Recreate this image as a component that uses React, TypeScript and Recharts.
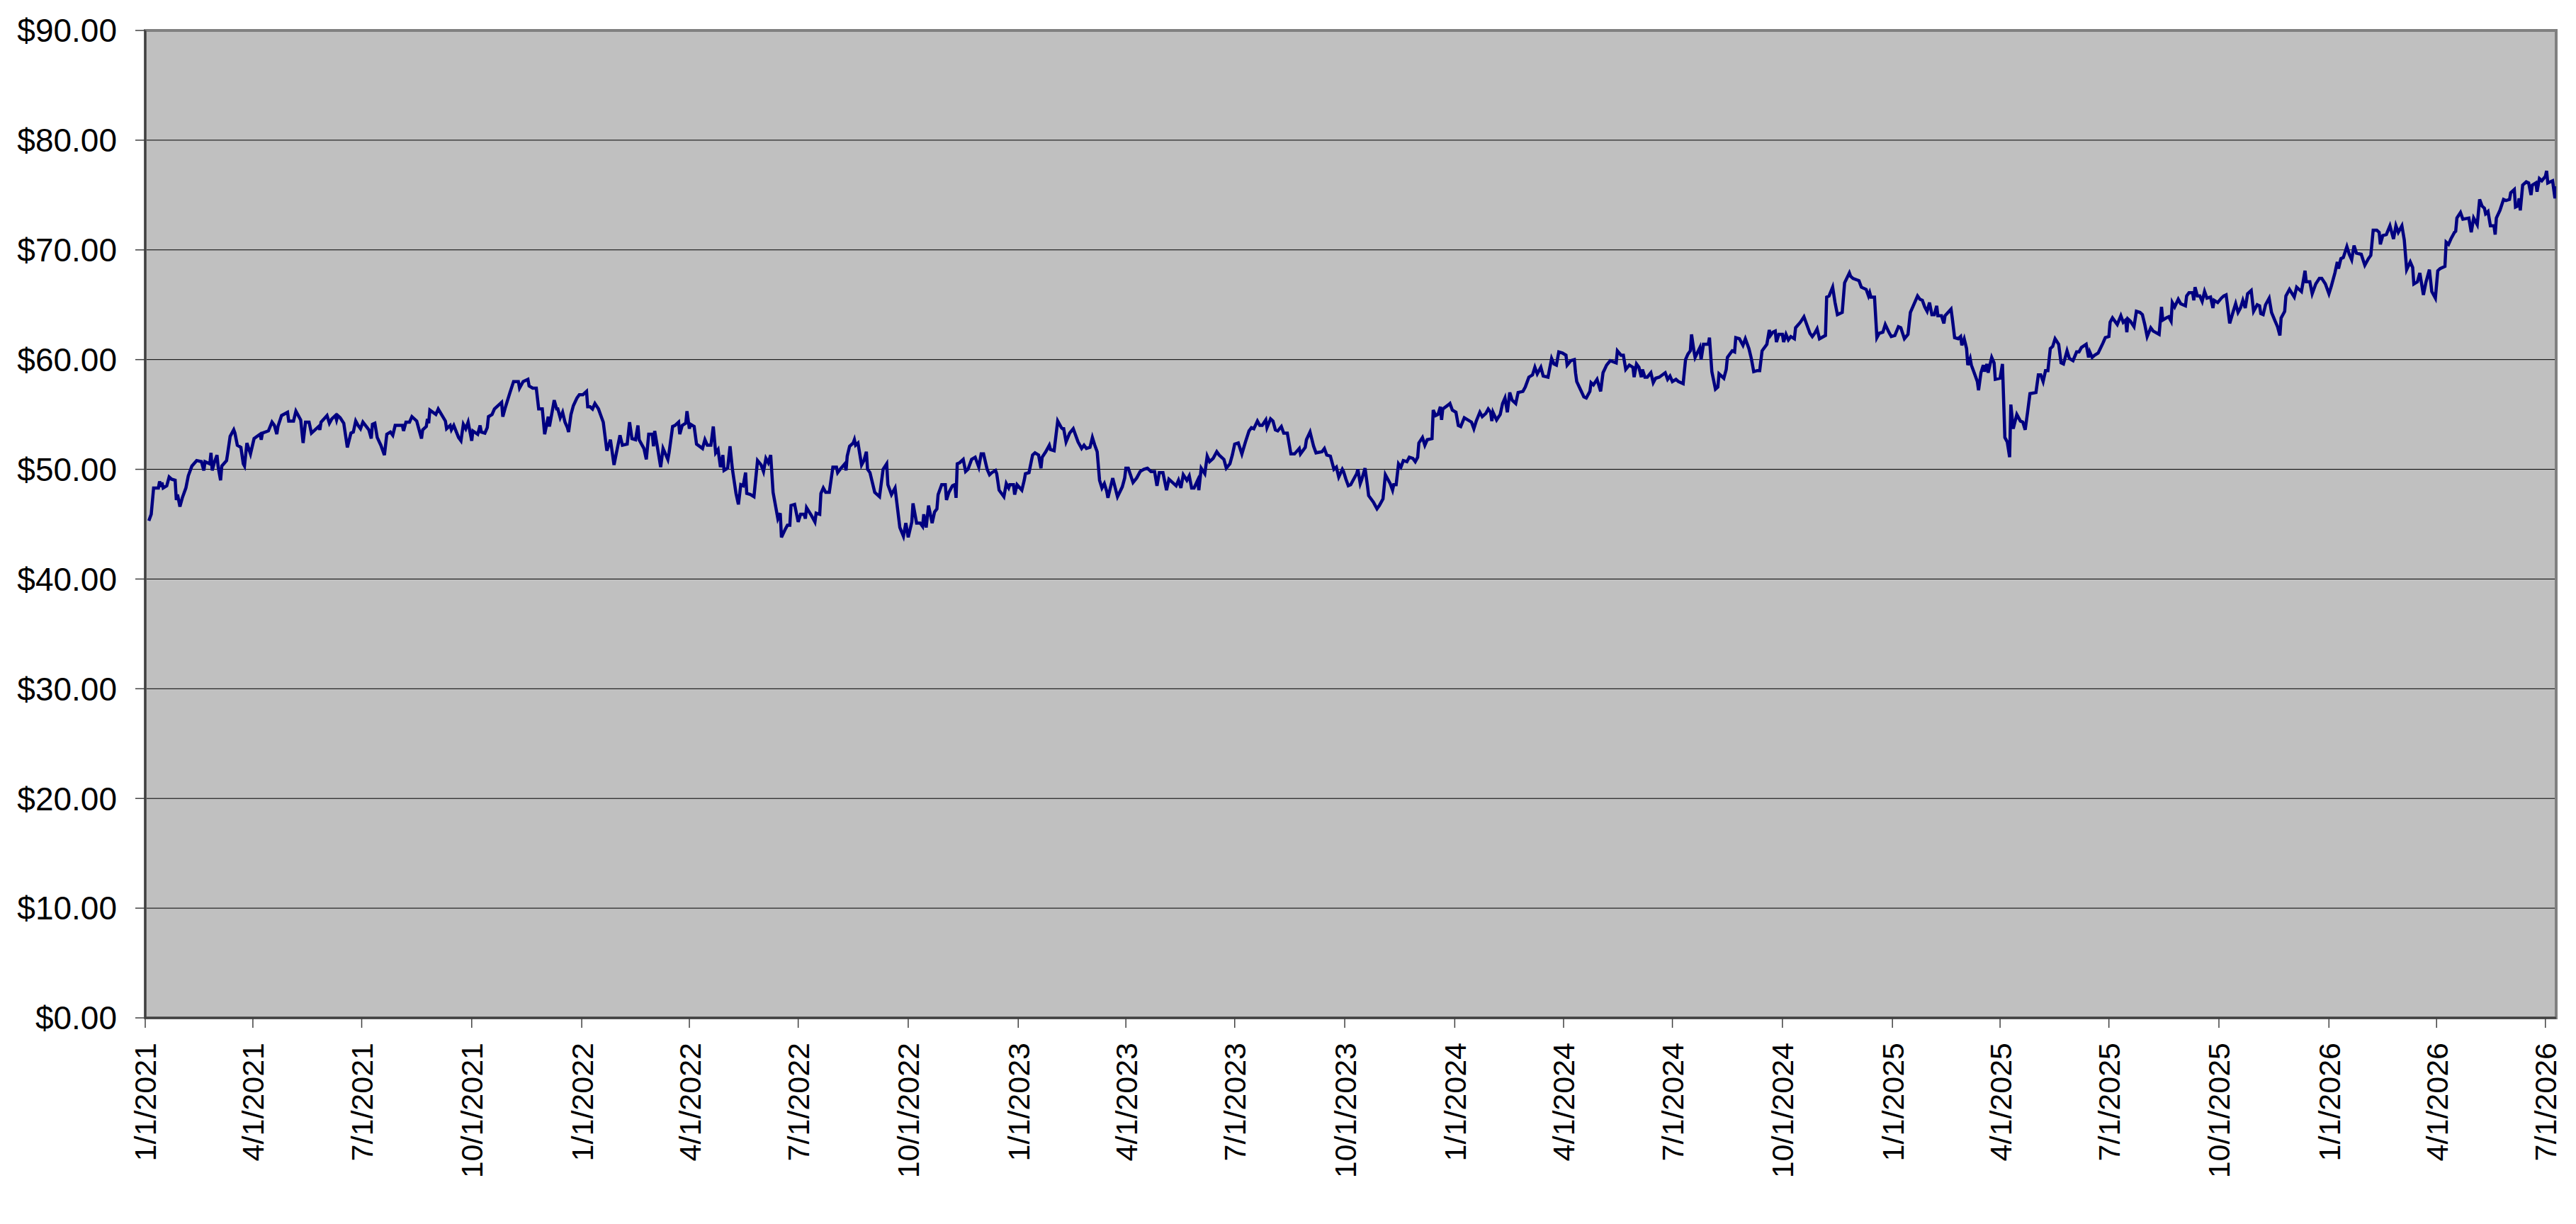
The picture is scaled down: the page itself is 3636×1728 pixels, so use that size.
import {
  CartesianGrid,
  Line,
  LineChart,
  ReferenceArea,
  XAxis,
  YAxis,
} from "recharts";

// x values are days counted from 1/1/2021, y values are closing prices in dollars
const days2021 = [
  3, 5, 7, 11, 12, 13, 14, 15, 18, 20, 22, 25, 26, 27, 29, 31, 34, 36, 39, 43, 47, 49, 50, 54, 55, 56, 58, 60, 61, 63,
  64, 68, 69, 71, 74, 75, 77, 80, 82, 83, 85, 88, 91, 96, 97, 98, 103, 106, 108, 110, 111, 114, 119, 120, 124, 126,
  130, 132, 134, 137, 139, 145, 146, 147, 152, 154, 156, 159, 160, 161, 163, 166, 169, 172, 174, 176, 178, 180, 182,
  187, 189, 190, 192, 194, 197, 200, 202, 205, 207, 209, 215, 216, 218, 221, 223, 227, 229, 231, 232, 235, 236, 237,
  238, 243, 245, 251, 252, 255, 256, 258, 262, 264, 266, 268, 270, 273, 274, 278, 280, 281, 284, 286, 287, 290, 292,
  298, 299, 301, 305, 308, 312, 313, 316, 320, 321, 324, 327, 329, 332, 334, 337, 338, 340, 342, 344, 345, 347, 349,
  351, 353, 354, 356, 358, 361, 363,
];
const close2021 = [
  45.3, 45.9, 48.3, 48.3, 48.9, 48.4, 48.8, 48.3, 48.5, 49.3, 49.1, 49.0, 47.2, 47.7, 46.6, 47.4, 48.3, 49.4, 50.3,
  50.8, 50.7, 49.9, 50.7, 50.5, 51.5, 49.9, 50.7, 51.3, 50.2, 49.0, 50.3, 50.8, 51.5, 53.0, 53.6, 53.3, 52.2, 52.0,
  50.5, 50.3, 52.4, 51.4, 52.8, 53.2, 52.7, 53.3, 53.5, 54.3, 54.0, 53.2, 53.9, 54.9, 55.2, 54.4, 54.4, 55.3, 54.5,
  52.4, 54.3, 54.3, 53.3, 53.9, 53.6, 54.3, 54.9, 54.2, 54.6, 54.9, 54.5, 54.9, 54.7, 54.2, 52.0, 53.3, 53.4, 54.4,
  54.0, 53.7, 54.3, 53.6, 52.8, 54.1, 54.2, 52.9, 52.2, 51.3, 53.2, 53.4, 53.1, 54.0, 54.0, 53.5, 54.3, 54.3, 54.8,
  54.4, 53.6, 52.8, 53.6, 53.9, 54.6, 54.2, 55.4, 55.0, 55.5, 54.4, 53.7, 54.0, 53.6, 54.0, 52.9, 52.6, 54.1, 53.7,
  54.3, 52.6, 53.5, 53.2, 54.0, 53.4, 53.3, 53.8, 54.8, 55.0, 55.5, 56.1, 54.8, 55.6, 57.0, 58.0, 58.0, 57.4, 58.0,
  58.2, 57.6, 57.4, 57.4, 55.5, 55.5, 53.2, 54.8, 53.9, 55.1, 56.3, 55.5, 55.5, 54.7, 55.2, 54.3, 53.8, 53.4, 55.0,
  55.8, 56.5, 56.8,
];

const days2022 = [
  366, 369, 370, 372, 374, 376, 379, 381, 383, 386, 389, 392, 394, 397, 399, 403, 405, 407, 410, 412, 413, 417, 419,
  421, 424, 425, 426, 428, 431, 433, 437, 438, 441, 443, 446, 447, 449, 452, 453, 455, 456, 459, 461, 466, 468, 470,
  473, 475, 477, 479, 481, 483, 484, 487, 489, 491, 494, 496, 498, 500, 502, 503, 506, 509, 512, 515, 517, 519, 521,
  523, 525, 529, 531, 532, 535, 537, 539, 540, 543, 546, 548, 551, 552, 553, 557, 560, 561, 564, 565, 567, 569, 572,
  575, 578, 579, 581, 585, 586, 587, 589, 592, 593, 594, 596, 599, 601, 603, 604, 606, 610, 614, 617, 620, 621, 624,
  627, 631, 634, 636, 638, 641, 642, 645, 648, 650, 651, 653, 655, 658, 660, 662, 663, 666, 669, 670, 672, 675, 677,
  678, 679, 681, 684, 686, 688, 691, 694, 697, 699, 701, 704, 706, 708, 711, 712, 714, 718, 720, 722, 723, 726, 727,
  729,
];
const close2022 = [
  56.8, 57.1, 55.7, 55.7, 55.5, 56.0, 55.5, 54.9, 54.3, 51.7, 52.7, 50.4, 51.5, 53.1, 52.2, 52.3, 54.3, 52.8, 52.7,
  54.0, 52.7, 51.9, 50.9, 53.2, 53.2, 52.1, 53.5, 52.2, 50.2, 51.9, 50.9, 51.5, 53.9, 54.0, 54.3, 53.2, 54.0, 54.2,
  55.3, 53.7, 54.1, 53.9, 52.3, 51.9, 52.7, 52.2, 52.2, 53.9, 51.5, 51.8, 50.2, 51.3, 49.9, 50.1, 52.1, 50.0, 47.8,
  46.8, 48.6, 48.5, 49.7, 47.8, 47.7, 47.5, 50.8, 50.4, 49.8, 51.0, 50.6, 51.3, 47.9, 45.5, 46.0, 43.8, 44.5, 44.9,
  44.9, 46.7, 46.8, 45.2, 45.9, 45.9, 45.5, 46.5, 45.8, 45.2, 46.0, 45.9, 47.8, 48.3, 47.9, 47.9, 50.2, 50.2, 49.7,
  50.0, 50.5, 49.9, 51.2, 52.1, 52.4, 52.7, 52.2, 52.4, 50.4, 50.8, 51.6, 50.0, 49.7, 47.9, 47.5, 50.0, 50.5, 48.6,
  47.7, 48.3, 44.7, 43.9, 45.1, 43.8, 45.2, 46.9, 45.1, 45.1, 44.8, 45.9, 44.7, 46.7, 45.1, 46.1, 46.4, 47.7, 48.6,
  48.6, 47.2, 47.9, 48.5, 48.6, 47.4, 50.5, 50.6, 50.9, 49.8, 50.0, 50.9, 51.1, 50.2, 51.4, 51.4, 50.0, 49.5, 49.7,
  49.9, 49.6, 48.1, 47.5, 48.7, 48.3, 48.6, 48.6, 47.7, 48.6,
];

const days2023 = [
  733, 735, 736, 739, 742, 744, 747, 749, 750, 753, 756, 757, 760, 763, 766, 767, 768, 770, 773, 776, 780, 783, 785,
  787, 790, 792, 794, 796, 798, 800, 802, 804, 805, 809, 813, 817, 819, 820, 822, 826, 829, 832, 835, 838, 841, 844,
  846, 848, 851, 854, 856, 859, 862, 864, 866, 868, 871, 873, 875, 877, 880, 881, 883, 886, 888, 890, 893, 896, 898,
  902, 904, 907, 909, 911, 914, 917, 920, 923, 925, 927, 930, 932, 934, 937, 938, 941, 943, 945, 947, 950, 952, 955,
  958, 961, 965, 966, 970, 971, 974, 977, 979, 984, 986, 988, 991, 994, 996, 998, 1001, 1002, 1004, 1006, 1008, 1010,
  1013, 1014, 1016, 1017, 1020, 1022, 1023, 1027, 1028, 1030, 1032, 1035, 1037, 1041, 1043, 1044, 1046, 1048, 1050,
  1052, 1055, 1057, 1060, 1062, 1064, 1065, 1068, 1070, 1072, 1076, 1077, 1079, 1081, 1083, 1084, 1085, 1090, 1091,
  1093,
];
const close2023 = [
  48.1, 49.0, 49.6, 49.7, 51.3, 51.5, 51.3, 50.1, 51.1, 51.6, 52.2, 51.8, 51.7, 54.4, 53.8, 53.7, 53.7, 52.5, 53.3,
  53.7, 52.5, 51.9, 52.2, 51.9, 52.0, 52.9, 52.2, 51.6, 49.0, 48.3, 48.7, 48.0, 47.4, 49.2, 47.5, 48.4, 49.2, 50.1,
  50.1, 48.8, 49.2, 49.8, 50.0, 50.1, 49.8, 49.8, 48.5, 49.7, 49.7, 48.1, 49.1, 48.8, 48.5, 49.0, 48.3, 49.5, 49.0,
  49.4, 48.3, 48.3, 49.0, 48.1, 50.1, 49.6, 51.2, 50.7, 51.0, 51.6, 51.3, 50.9, 50.1, 50.5, 51.3, 52.3, 52.4, 51.4,
  52.5, 53.5, 53.8, 53.7, 54.4, 54.0, 54.0, 54.5, 53.8, 54.6, 54.4, 53.6, 53.5, 53.9, 53.3, 53.3, 51.4, 51.4, 51.9,
  51.4, 52.0, 52.7, 53.4, 52.1, 51.5, 51.6, 51.9, 51.3, 51.2, 50.0, 50.2, 49.3, 50.0, 49.8, 49.1, 48.5, 48.6, 49.0,
  49.6, 50.0, 48.7, 49.0, 50.1, 48.5, 47.6, 47.0, 46.8, 46.4, 46.7, 47.3, 49.5, 48.7, 48.1, 48.6, 48.6, 50.5, 50.2,
  50.8, 50.7, 51.1, 51.0, 50.7, 51.1, 52.4, 52.9, 52.2, 52.7, 52.8, 55.4, 54.9, 55.0, 55.7, 54.5, 55.5, 55.9, 56.0,
  55.4,
];

const days2024 = [
  1096, 1098, 1100, 1103, 1106, 1109, 1111, 1113, 1116, 1118, 1121, 1123, 1125, 1126, 1127, 1130, 1133, 1135, 1137,
  1139, 1141, 1143, 1146, 1148, 1152, 1154, 1157, 1160, 1162, 1164, 1167, 1169, 1173, 1176, 1178, 1180, 1182, 1185,
  1188, 1189, 1192, 1195, 1196, 1197, 1200, 1203, 1205, 1208, 1209, 1211, 1214, 1217, 1219, 1222, 1225, 1230, 1231,
  1234, 1236, 1238, 1241, 1244, 1245, 1247, 1249, 1251, 1252, 1254, 1256, 1259, 1261, 1263, 1266, 1271, 1273, 1275,
  1277, 1280, 1282, 1286, 1288, 1290, 1292, 1293, 1295, 1296, 1300, 1301, 1303, 1307, 1308, 1310, 1313, 1315, 1316,
  1320, 1322, 1323, 1327, 1329, 1330, 1333, 1336, 1338, 1341, 1343, 1345, 1348, 1350, 1352, 1356, 1358, 1359, 1361,
  1363, 1364, 1366, 1369, 1370, 1372, 1374, 1376, 1379, 1380, 1384, 1387, 1389, 1392, 1394, 1396, 1398, 1400, 1405,
  1406, 1408, 1411, 1413, 1415, 1419, 1421, 1425, 1426, 1428, 1433, 1435, 1439, 1441, 1442, 1443, 1446, 1448, 1450,
  1453, 1455, 1458, 1460,
];
const close2024 = [
  55.2, 54.0, 53.9, 54.7, 54.5, 54.3, 53.7, 54.4, 55.2, 54.8, 55.1, 55.5, 55.2, 54.4, 55.2, 54.5, 55.0, 56.0, 56.5,
  55.2, 57.0, 56.3, 56.0, 57.0, 57.1, 57.5, 58.4, 58.6, 59.3, 58.7, 59.3, 58.5, 58.4, 60.1, 59.6, 59.5, 60.7, 60.6,
  60.4, 59.5, 59.9, 60.0, 58.8, 58.0, 57.3, 56.6, 56.5, 57.1, 57.9, 57.7, 58.2, 57.1, 58.8, 59.5, 59.9, 59.7, 60.8,
  60.4, 60.4, 59.1, 59.5, 59.3, 58.4, 59.6, 59.3, 58.4, 59.1, 58.4, 58.4, 58.8, 57.9, 58.3, 58.4, 58.8, 58.2, 58.5,
  58.0, 58.2, 58.0, 57.8, 60.0, 60.5, 60.8, 62.3, 60.8, 60.2, 61.1, 60.0, 61.4, 61.4, 62.0, 58.9, 57.3, 57.5, 58.7,
  58.3, 59.1, 60.2, 60.8, 60.7, 62.0, 61.9, 61.3, 61.9, 61.0, 60.1, 58.9, 59.0, 59.0, 60.8, 61.4, 62.7, 62.2, 62.5,
  62.6, 61.6, 62.3, 62.3, 61.6, 62.3, 61.8, 62.1, 61.9, 62.9, 63.4, 63.9, 63.3, 62.4, 62.1, 62.4, 62.8, 61.9, 62.2,
  65.7, 65.8, 66.6, 65.2, 64.1, 64.3, 67.0, 67.9, 67.6, 67.4, 67.2, 66.6, 66.4, 65.8, 66.1, 65.7, 65.7, 62.0, 62.4,
  62.5, 63.2, 62.5, 62.1,
];

const days2025 = [
  1463, 1466, 1468, 1471, 1474, 1476, 1480, 1482, 1484, 1486, 1488, 1490, 1492, 1494, 1496, 1498, 1499, 1502, 1504,
  1505, 1510, 1511, 1513, 1516, 1518, 1519, 1521, 1523, 1524, 1526, 1527, 1530, 1532, 1533, 1535, 1537, 1538, 1540,
  1541, 1544, 1546, 1547, 1551, 1553, 1555, 1557, 1559, 1560, 1562, 1565, 1568, 1570, 1572, 1574, 1576, 1581, 1583,
  1585, 1587, 1589, 1591, 1593, 1595, 1597, 1600, 1602, 1604, 1607, 1609, 1612, 1615, 1617, 1619, 1623, 1625, 1626,
  1628, 1630, 1633, 1637, 1639, 1642, 1643, 1645, 1649, 1652, 1654, 1656, 1657, 1658, 1660, 1663, 1665, 1668, 1670,
  1672, 1674, 1677, 1679, 1684, 1686, 1687, 1690, 1692, 1694, 1695, 1697, 1700, 1702, 1706, 1707, 1709, 1712, 1713,
  1714, 1716, 1718, 1720, 1722, 1724, 1727, 1729, 1730, 1733, 1736, 1738, 1740, 1741, 1743, 1746, 1748, 1750, 1752,
  1754, 1756, 1758, 1761, 1763, 1766, 1768, 1769, 1771, 1773, 1776, 1778, 1781, 1783, 1785, 1786, 1789, 1790, 1793,
  1797, 1799, 1803, 1806, 1807, 1810, 1812, 1815, 1818, 1820, 1823,
];
const close2025 = [
  62.2, 63.0, 62.9, 61.9, 62.3, 64.3, 65.3, 65.8, 65.5, 65.4, 64.8, 64.4, 65.2, 64.1, 64.1, 64.9, 64.0, 64.0, 63.3,
  64.0, 64.6, 63.8, 62.0, 61.9, 62.1, 61.3, 61.9, 61.0, 59.5, 60.1, 59.5, 58.6, 58.0, 57.2, 58.8, 59.5, 58.9, 59.6,
  58.8, 60.2, 59.7, 58.2, 58.3, 59.6, 52.9, 52.5, 51.1, 55.9, 53.7, 55.0, 54.4, 54.3, 53.6, 55.2, 56.9, 57.0, 58.6,
  58.6, 58.0, 59.0, 59.0, 61.0, 61.2, 61.9, 61.4, 59.7, 59.6, 60.8, 60.1, 59.9, 60.7, 60.7, 61.1, 61.4, 60.2, 60.7,
  60.2, 60.4, 60.6, 61.5, 62.0, 62.1, 63.4, 63.8, 63.2, 64.0, 63.4, 63.6, 62.5, 63.7, 63.5, 63.0, 64.4, 64.3, 64.1,
  63.2, 62.1, 62.9, 62.6, 62.3, 64.8, 63.6, 63.8, 63.9, 63.5, 65.2, 64.8, 65.5, 65.1, 64.9, 65.8, 66.1, 66.1, 65.4,
  66.6, 65.8, 65.8, 65.3, 66.2, 65.6, 65.7, 64.7, 65.4, 65.2, 65.6, 65.8, 65.9, 65.1, 63.3, 64.4, 65.1, 64.3, 64.7,
  65.4, 64.7, 66.0, 66.3, 64.4, 65.0, 64.9, 64.2, 64.1, 65.0, 65.6, 64.3, 63.5, 63.0, 62.2, 63.8, 64.4, 65.8, 66.4,
  65.7, 66.6, 66.2, 68.1, 67.1, 67.1, 66.0, 66.9, 67.4, 67.4, 66.9,
];

const days2026 = [
  1826, 1828, 1831, 1833, 1834, 1836, 1838, 1841, 1843, 1845, 1847, 1849, 1853, 1856, 1859, 1861, 1863, 1866, 1868,
  1869, 1871, 1874, 1877, 1880, 1882, 1884, 1887, 1889, 1891, 1894, 1896, 1897, 1900, 1902, 1905, 1907, 1910, 1912,
  1915, 1917, 1919, 1923, 1924, 1926, 1928, 1931, 1932, 1933, 1936, 1938, 1943, 1945, 1947, 1950, 1952, 1954, 1956,
  1957, 1959, 1961, 1964, 1965, 1966, 1969, 1972, 1974, 1977, 1978, 1981, 1982, 1984, 1985, 1986, 1988, 1991, 1993,
  1995, 1996, 1999, 2000, 2002, 2004, 2007, 2008, 2009, 2011, 2013, 2015, 2016,
];
const close2026 = [
  66.0, 66.7, 67.9, 68.9, 68.3, 69.2, 69.3, 70.3, 69.6, 69.1, 70.4, 69.7, 69.6, 68.6, 69.2, 69.5, 71.8, 71.8, 71.6,
  70.5, 71.3, 71.4, 72.2, 71.0, 72.2, 71.6, 72.2, 70.9, 68.2, 68.9, 68.4, 66.9, 67.1, 67.9, 65.9, 67.0, 68.2, 66.2,
  65.6, 68.1, 68.3, 68.5, 70.7, 70.5, 71.0, 71.6, 71.7, 72.9, 73.4, 72.8, 72.9, 71.6, 72.9, 72.3, 74.6, 74.0, 73.8,
  73.3, 73.5, 72.2, 72.2, 71.4, 72.9, 73.6, 74.6, 74.5, 74.6, 75.2, 75.5, 73.9, 74.0, 74.7, 73.6, 75.9, 76.2, 76.1,
  75.0, 75.9, 76.1, 75.3, 76.5, 76.3, 76.7, 77.2, 76.1, 76.2, 76.3, 74.7, 75.8,
];

const tickLabels = [
  "1/1/2021", "4/1/2021", "7/1/2021", "10/1/2021",
  "1/1/2022", "4/1/2022", "7/1/2022", "10/1/2022",
  "1/1/2023", "4/1/2023", "7/1/2023", "10/1/2023",
  "1/1/2024", "4/1/2024", "7/1/2024", "10/1/2024",
  "1/1/2025", "4/1/2025", "7/1/2025", "10/1/2025",
  "1/1/2026", "4/1/2026", "7/1/2026",
];
const priceTicks = [0, 10, 20, 30, 40, 50, 60, 70, 80, 90];
const lastDay = 2016;

const allDays = [...days2021, ...days2022, ...days2023, ...days2024, ...days2025, ...days2026];
const allClose = [...close2021, ...close2022, ...close2023, ...close2024, ...close2025, ...close2026];
const data = allDays.map((day, i) => ({ day, price: allClose[i] }));

const DAY_MS = 86400000;
const START = Date.UTC(2021, 0, 1);
const dayOf = (label: string) => {
  const [m, d, y] = label.split("/").map(Number);
  return Math.round((Date.UTC(y, m - 1, d) - START) / DAY_MS);
};
const tickDays = tickLabels.map(dayOf);

const FONT = '"Liberation Sans", Arial, sans-serif';

const DateTick = (props: any) => {
  const { x, y, payload } = props;
  const idx = tickDays.indexOf(payload.value);
  return (
    <g transform={`translate(${x},${y})`}>
      <text
        transform="rotate(-90)"
        textAnchor="end"
        dy="0.36em"
        fontSize={43}
        fontFamily={FONT}
        fill="#000"
      >
        {idx >= 0 ? tickLabels[idx] : ""}
      </text>
    </g>
  );
};

export default function App() {
  return (
    <LineChart
      width={3620}
      height={1700}
      data={data}
      margin={{ top: 35, right: 20, bottom: 0, left: 0 }}
    >
      <CartesianGrid vertical={false} stroke="#000" fill="#C0C0C0" fillOpacity={1} />
      <ReferenceArea
        x1={0}
        x2={lastDay}
        y1={0}
        y2={90}
        fill="none"
        stroke="#808080"
        strokeWidth={4}
        ifOverflow="visible"
      />
      <XAxis
        type="number"
        dataKey="day"
        domain={[0, lastDay]}
        ticks={tickDays}
        interval={0}
        height={271}
        tickSize={14}
        tickMargin={21}
        tick={<DateTick />}
        axisLine={{ stroke: "#404040", strokeWidth: 3 }}
        tickLine={{ stroke: "#404040", strokeWidth: 1.5 }}
        allowDataOverflow
      />
      <YAxis
        type="number"
        domain={[0, 90]}
        ticks={priceTicks}
        interval={0}
        width={197}
        tickSize={14}
        tickMargin={26}
        tickFormatter={(v: number) => `$${v.toFixed(2)}`}
        tick={{ fontSize: 46, fontFamily: FONT, fill: "#000" }}
        axisLine={{ stroke: "#404040", strokeWidth: 3 }}
        tickLine={{ stroke: "#404040", strokeWidth: 1.5 }}
      />
      <Line
        type="linear"
        dataKey="price"
        stroke="#000080"
        strokeWidth={4.5}
        dot={false}
        activeDot={false}
        isAnimationActive={false}
      />
    </LineChart>
  );
}
